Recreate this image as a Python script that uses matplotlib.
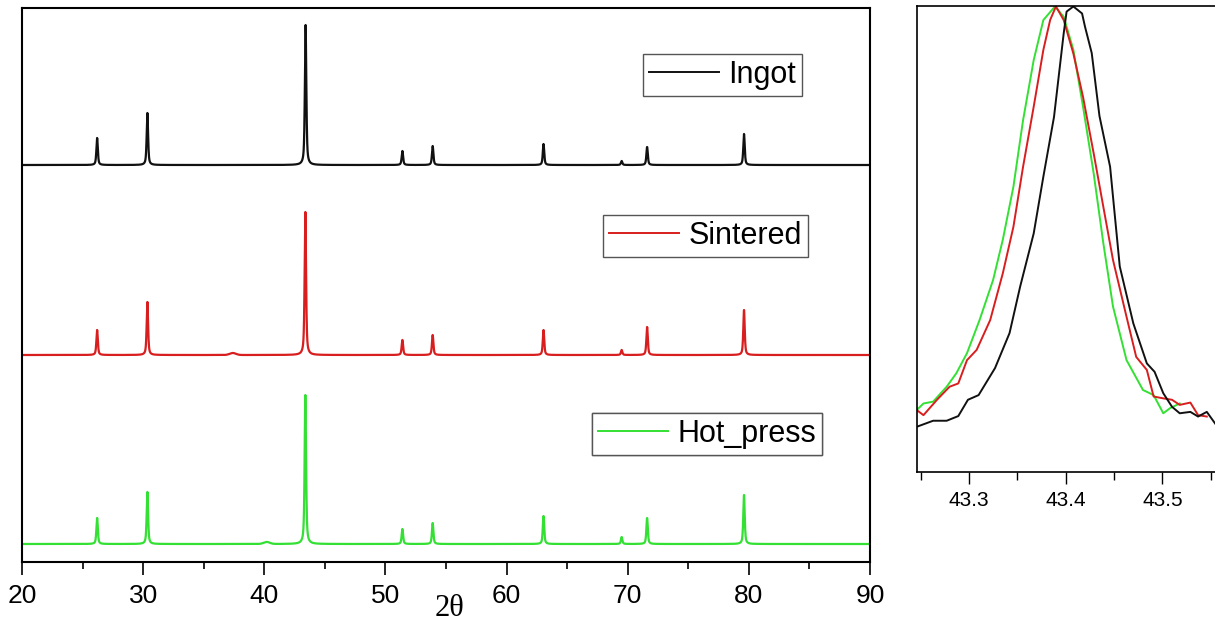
import numpy as np
import matplotlib
matplotlib.use("Agg")
import matplotlib.pyplot as plt
from matplotlib.lines import Line2D
from matplotlib.ticker import MultipleLocator, FormatStrFormatter

# ---- full-range XRD patterns: reflections (2theta, deg) and their heights ----
peak_pos = [26.2, 30.35, 43.4, 51.4, 53.9, 63.05, 69.5, 71.6, 79.6]
ingot_heights = [27, 52, 140, 14, 19, 21, 4, 18, 31]
sintered_heights = [25, 53, 143, 15, 20, 25, 5, 28, 45]
hot_press_heights = [26, 52, 149, 15, 21, 28, 7, 26, 49]

# main-reflection centre for each sample (from the zoomed scan)
main_centre = {"Ingot": 43.41, "Sintered": 43.39, "Hot_press": 43.39}

# weak extra humps
sintered_minor = [(37.4, 2)]
hot_press_minor = [(40.2, 2)]

# vertical stacking offsets of the three patterns
offsets = {"Ingot": 397, "Sintered": 207, "Hot_press": 18}

# ---- zoom on the strongest reflection (normalised intensity) ----
zoom_ingot_x = [43.246, 43.263, 43.277, 43.289, 43.299, 43.310, 43.327, 43.342,
                43.353, 43.367, 43.377, 43.388, 43.398, 43.401, 43.408, 43.417,
                43.420, 43.427, 43.435, 43.446, 43.456, 43.470, 43.484, 43.492,
                43.501, 43.510, 43.518, 43.529, 43.537, 43.546, 43.556]
zoom_ingot_y = [0.097, 0.110, 0.110, 0.120, 0.155, 0.165, 0.223, 0.298,
                0.398, 0.512, 0.634, 0.762, 0.941, 0.988, 0.999, 0.984,
                0.956, 0.899, 0.764, 0.655, 0.441, 0.319, 0.233, 0.215,
                0.169, 0.140, 0.126, 0.129, 0.119, 0.129, 0.100]

zoom_sintered_x = [43.246, 43.253, 43.267, 43.280, 43.289, 43.298, 43.308, 43.322,
                   43.335, 43.346, 43.356, 43.367, 43.377, 43.384, 43.390, 43.398,
                   43.408, 43.418, 43.429, 43.439, 43.449, 43.463, 43.473, 43.484,
                   43.491, 43.501, 43.510, 43.518, 43.529, 43.537, 43.546]
zoom_sintered_y = [0.133, 0.122, 0.155, 0.183, 0.190, 0.240, 0.262, 0.326,
                   0.426, 0.526, 0.655, 0.784, 0.906, 0.970, 0.999, 0.970,
                   0.898, 0.805, 0.684, 0.569, 0.455, 0.333, 0.247, 0.219,
                   0.162, 0.158, 0.155, 0.144, 0.149, 0.122, 0.119]

zoom_hot_x = [43.246, 43.253, 43.263, 43.277, 43.287, 43.298, 43.311, 43.325,
              43.335, 43.346, 43.356, 43.367, 43.377, 43.389, 43.398, 43.408,
              43.418, 43.429, 43.439, 43.449, 43.463, 43.480, 43.491, 43.501,
              43.508, 43.518]
zoom_hot_y = [0.133, 0.147, 0.151, 0.183, 0.212, 0.255, 0.326, 0.412,
              0.498, 0.612, 0.755, 0.884, 0.970, 0.999, 0.977, 0.906,
              0.784, 0.641, 0.491, 0.355, 0.240, 0.176, 0.165, 0.126,
              0.137, 0.147]

colors = {"Ingot": "#111111", "Sintered": "#d81e1e", "Hot_press": "#33e033"}

plt.rcParams["font.family"] = ["Liberation Sans", "DejaVu Sans"]

W, H = 1215, 622
fig = plt.figure(figsize=(W / 100, H / 100), dpi=100)


def profile(x, centre, height, fwhm=0.14, eta=0.6):
    """Pseudo-Voigt line shape."""
    g = np.exp(-4 * np.log(2) * ((x - centre) / fwhm) ** 2)
    lz = 1.0 / (1.0 + 4 * ((x - centre) / fwhm) ** 2)
    return height * (eta * lz + (1 - eta) * g)


def pattern(x, name, heights, minor):
    y = np.zeros_like(x)
    for p, h in zip(peak_pos, heights):
        c = main_centre[name] if abs(p - 43.4) < 0.2 else p
        y += profile(x, c, h)
    for p, h in minor:
        y += profile(x, p, h, fwhm=0.6, eta=0.0)
    return y + offsets[name]


two_theta = np.arange(20.0, 90.0001, 0.005)

# ---------------- main panel ----------------
ax = fig.add_axes([22 / W, 1 - 562 / H, (870 - 22) / W, (562 - 8) / H])
series = [("Ingot", ingot_heights, []),
          ("Sintered", sintered_heights, sintered_minor),
          ("Hot_press", hot_press_heights, hot_press_minor)]
for name, heights, minor in series:
    ax.plot(two_theta, pattern(two_theta, name, heights, minor),
            color=colors[name], lw=1.6)

ax.set_xlim(20, 90)
ax.set_ylim(0, 554)
ax.xaxis.set_major_locator(MultipleLocator(10))
ax.xaxis.set_minor_locator(MultipleLocator(5))
ax.set_yticks([])
ax.tick_params(axis="x", which="major", direction="out", length=9.5, width=1.2,
               pad=6, labelsize=19)
ax.tick_params(axis="x", which="minor", direction="out", length=5, width=1.2)
for s in ax.spines.values():
    s.set_linewidth(1.5)

fig.text(450 / W, 1 - 609 / H, "2θ", family=["Liberation Serif", "DejaVu Serif"],
         fontsize=22, ha="center", va="center")

# one boxed legend per pattern
legend_corners = {"Ingot": (643, 54), "Sintered": (603, 215), "Hot_press": (592, 413)}
for name, _, _ in series:
    h = Line2D([], [], color=colors[name], lw=1.4)
    x0, y0 = legend_corners[name]
    leg = ax.legend([h], [name], loc="upper left",
                    bbox_to_anchor=(x0 / W, 1 - y0 / H),
                    bbox_transform=fig.transFigure, borderaxespad=0,
                    fontsize=22, handlelength=2.3, handletextpad=0.3,
                    borderpad=0.2, fancybox=False, framealpha=1)
    leg.get_frame().set_edgecolor("#555555")
    leg.get_frame().set_linewidth(1.0)
    ax.add_artist(leg)

# ---------------- zoom panel ----------------
x_lo, x_hi = 43.246, 43.560
px_per_unit = 967.0
ax2 = fig.add_axes([916.7 / W, 1 - 472 / H, (x_hi - x_lo) * px_per_unit / W, (472 - 6) / H])
ax2.plot(zoom_hot_x, zoom_hot_y, color=colors["Hot_press"], lw=1.4)
ax2.plot(zoom_sintered_x, zoom_sintered_y, color=colors["Sintered"], lw=1.4)
ax2.plot(zoom_ingot_x, zoom_ingot_y, color=colors["Ingot"], lw=1.4)
ax2.set_xlim(x_lo, x_hi)
ax2.set_ylim(0, 1)
ax2.set_yticks([])
ax2.xaxis.set_major_locator(MultipleLocator(0.1))
ax2.xaxis.set_minor_locator(MultipleLocator(0.05))
ax2.xaxis.set_major_formatter(FormatStrFormatter("%.1f"))
ax2.tick_params(axis="x", which="major", direction="out", length=8.5, width=1.0,
                pad=5, labelsize=15)
ax2.tick_params(axis="x", which="minor", direction="out", length=5.5, width=1.0)
for s in ax2.spines.values():
    s.set_linewidth(1.2)
ax2.spines["right"].set_visible(False)

fig.savefig("out.png", dpi=100, facecolor="white")
